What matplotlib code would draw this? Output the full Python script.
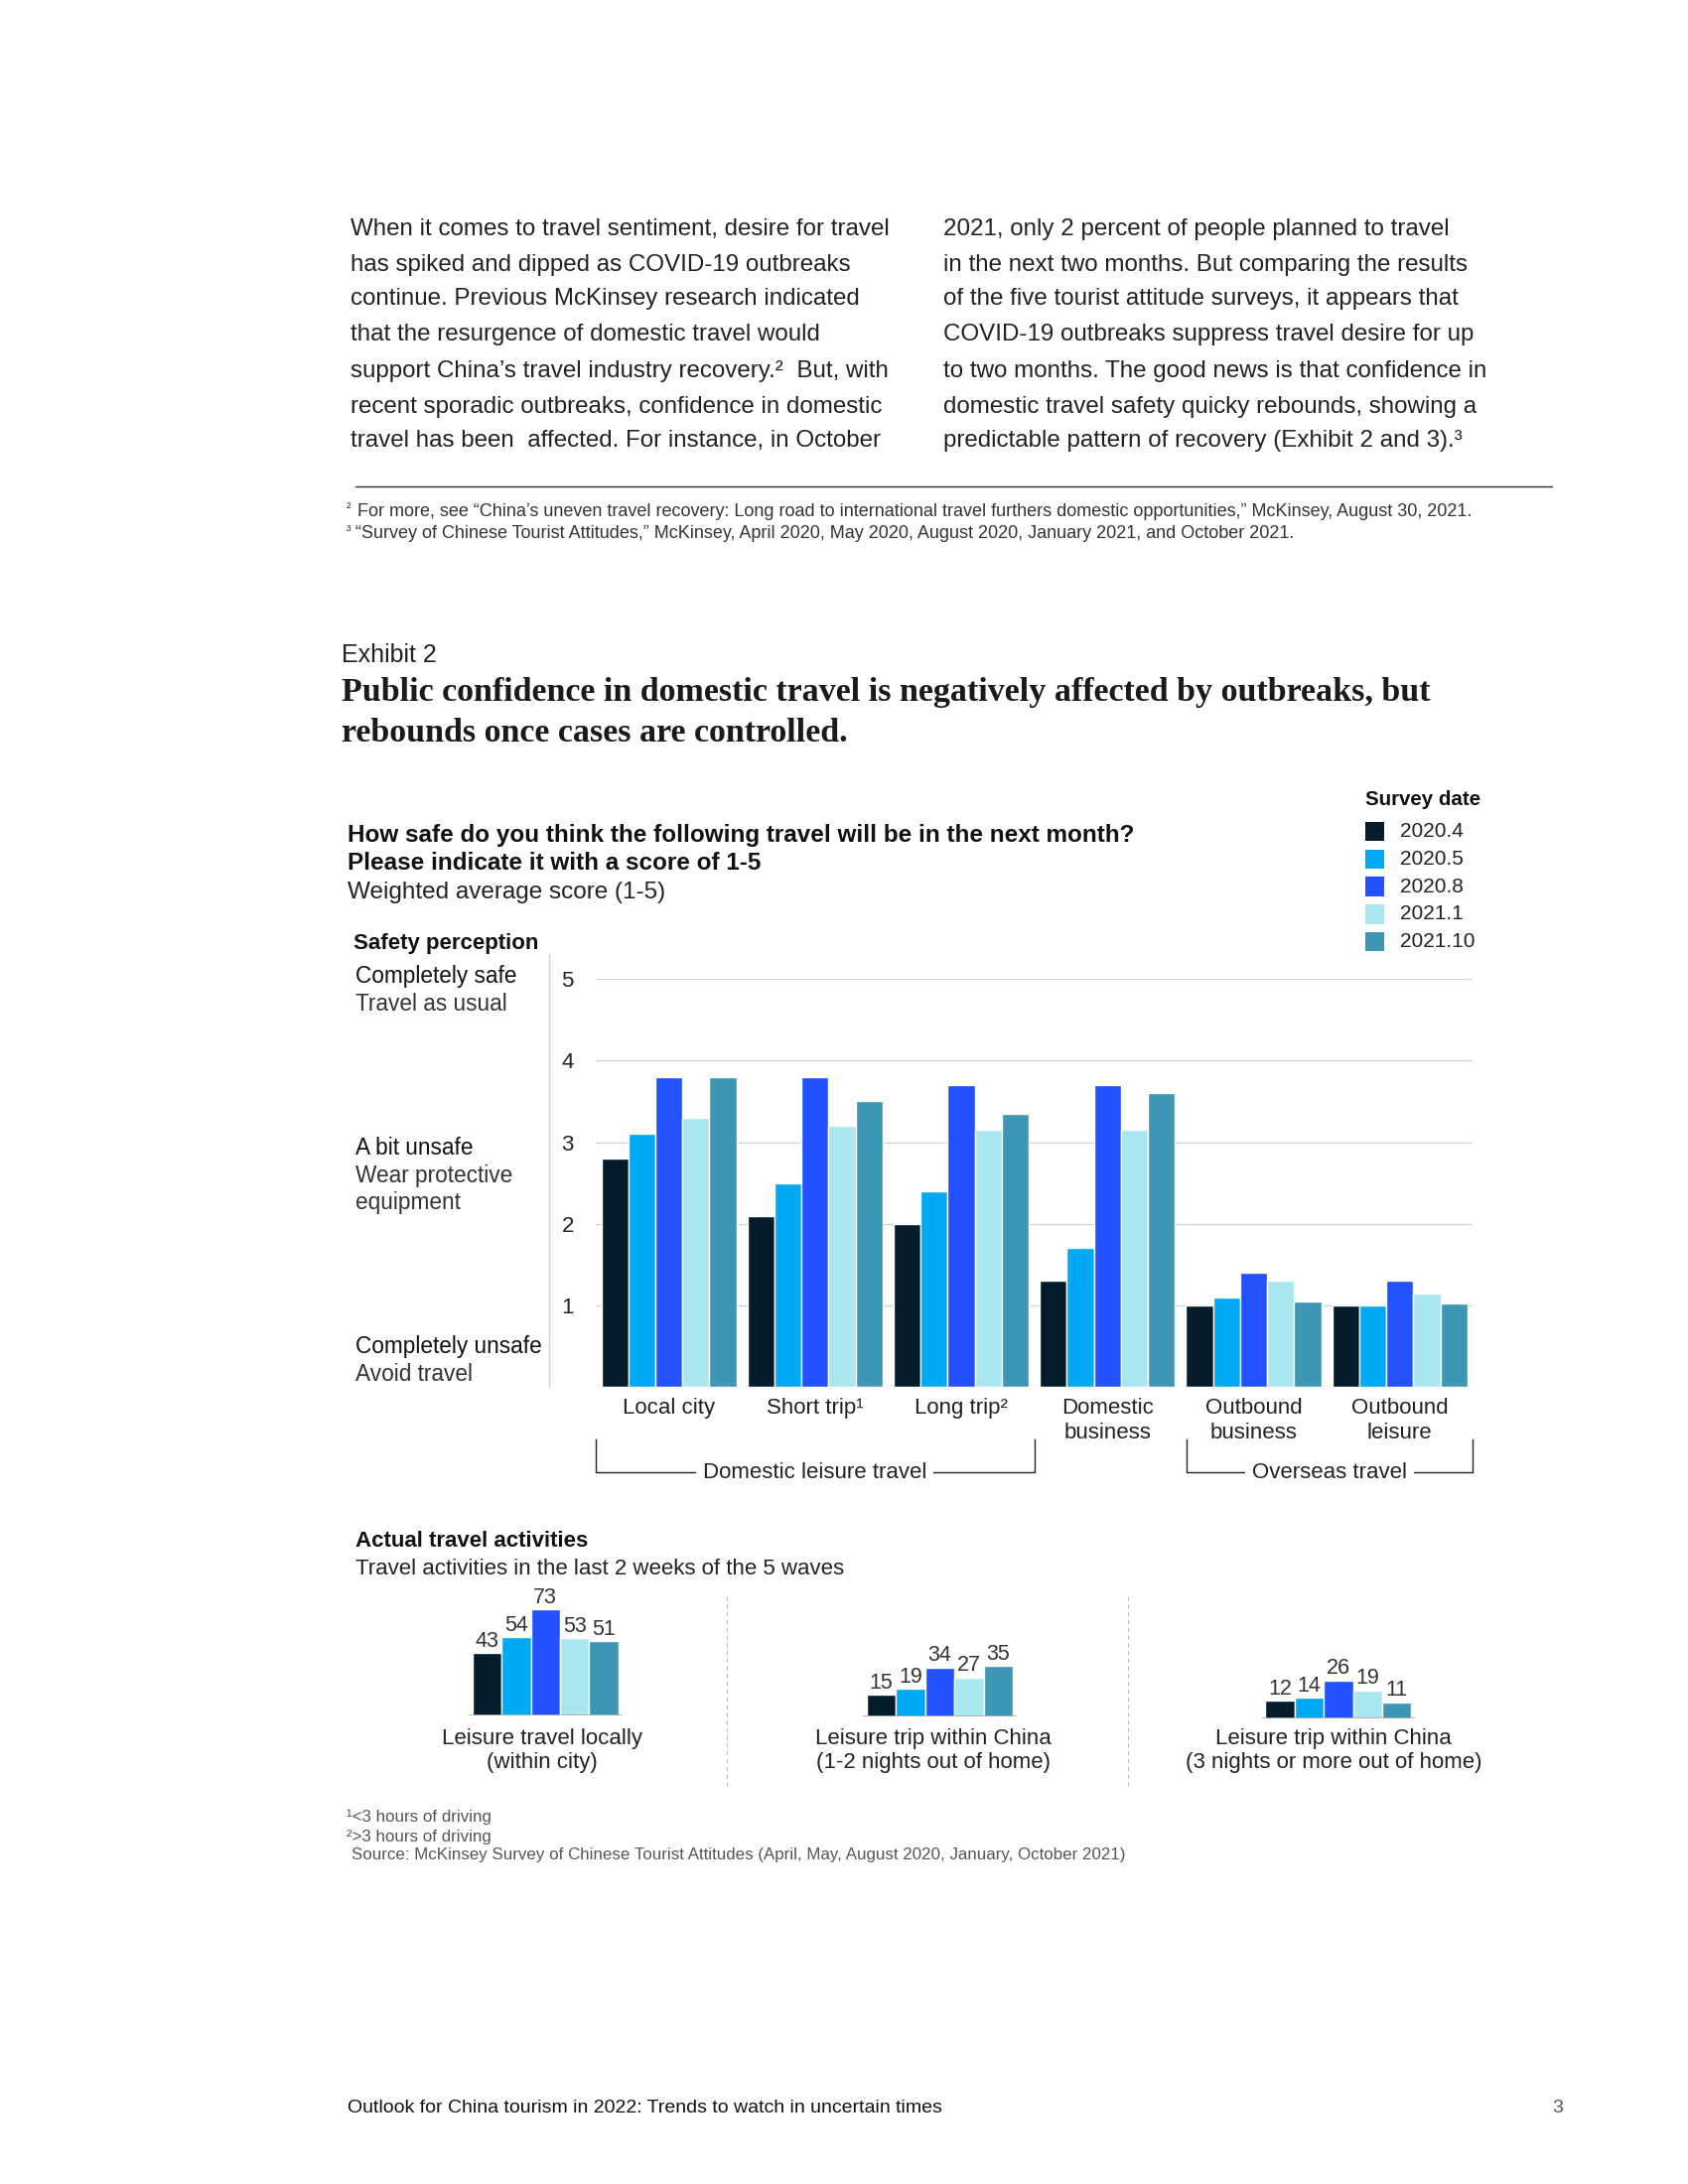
import numpy as np
import matplotlib
matplotlib.use("Agg")
import matplotlib.pyplot as plt
from matplotlib.lines import Line2D
from matplotlib.transforms import blended_transform_factory

plt.rcParams['font.family'] = ['Liberation Sans', 'DejaVu Sans']

# ---------------- data ----------------
categories = ["Local city", "Short trip¹", "Long trip²", "Domestic\nbusiness",
              "Outbound\nbusiness", "Outbound\nleisure"]
waves = ["2020.4", "2020.5", "2020.8", "2021.1", "2021.10"]
colors = ["#051C2C", "#00A9F4", "#2251FF", "#AAE6F0", "#3C96B4"]

score_2020_4 = [2.8, 2.1, 2.0, 1.3, 1.0, 1.0]
score_2020_5 = [3.1, 2.5, 2.4, 1.7, 1.1, 1.0]
score_2020_8 = [3.8, 3.8, 3.7, 3.7, 1.4, 1.3]
score_2021_1 = [3.3, 3.2, 3.15, 3.15, 1.3, 1.15]
score_2021_10 = [3.8, 3.5, 3.35, 3.6, 1.05, 1.02]
scores = [score_2020_4, score_2020_5, score_2020_8, score_2021_1, score_2021_10]

yticks = [1, 2, 3, 4, 5]

activity_labels = ["Leisure travel locally\n(within city)",
                   "Leisure trip within China\n(1-2 nights out of home)",
                   "Leisure trip within China\n(3 nights or more out of home)"]
local_city = [43, 54, 73, 53, 51]
trip_1_2_nights = [15, 19, 34, 27, 35]
trip_3_nights = [12, 14, 26, 19, 11]
activities = [local_city, trip_1_2_nights, trip_3_nights]

left_col = [
    "When it comes to travel sentiment, desire for travel",
    "has spiked and dipped as COVID-19 outbreaks",
    "continue. Previous McKinsey research indicated",
    "that the resurgence of domestic travel would",
    "support China’s travel industry recovery.²  But, with",
    "recent sporadic outbreaks, confidence in domestic",
    "travel has been  affected. For instance, in October",
]
right_col = [
    "2021, only 2 percent of people planned to travel",
    "in the next two months. But comparing the results",
    "of the five tourist attitude surveys, it appears that",
    "COVID-19 outbreaks suppress travel desire for up",
    "to two months. The good news is that confidence in",
    "domestic travel safety quicky rebounds, showing a",
    "predictable pattern of recovery (Exhibit 2 and 3).³",
]

W, H = 1224.0, 1584.0  # page layout units


def fx(x):
    return x / W


def fy(y):
    return 1 - y / H


fig = plt.figure(figsize=(17, 22), dpi=100)
fig.patch.set_facecolor("white")


def txt(x, y, s, size=14, weight="normal", color="#1a1a1a", ha="left", va="center", **kw):
    return fig.text(fx(x), fy(y), s, fontsize=size, fontweight=weight, color=color,
                    ha=ha, va=va, **kw)


def hline(x0, x1, y, color="#222222", lw=1.0, **kw):
    fig.add_artist(Line2D([fx(x0), fx(x1)], [fy(y), fy(y)], transform=fig.transFigure,
                          color=color, lw=lw, **kw))


def vline(x, y0, y1, color="#222222", lw=1.0, **kw):
    fig.add_artist(Line2D([fx(x), fx(x)], [fy(y0), fy(y1)], transform=fig.transFigure,
                          color=color, lw=lw, **kw))


# ---------------- body text ----------------
line_y = [166, 192, 217, 243, 269, 295, 320]
for y, s in zip(line_y, left_col):
    txt(254, y, s, size=17.4, color="#222222")
for y, s in zip(line_y, right_col):
    txt(684, y, s, size=17.4, color="#222222")

hline(258, 1125, 353, color="#333333", lw=1.0)
txt(251, 369, "²", size=10, color="#333333")
txt(259, 371, "For more, see “China’s uneven travel recovery: Long road to international travel furthers "
    "domestic opportunities,” McKinsey, August 30, 2021.", size=13, color="#333333")
txt(251, 385, "³", size=10, color="#333333")
txt(258, 387, "“Survey of Chinese Tourist Attitudes,” McKinsey, April 2020, May 2020, August 2020, "
    "January 2021, and October 2021.", size=13, color="#333333")

# ---------------- exhibit header ----------------
txt(248, 475, "Exhibit 2", size=18, color="#222222")
txt(248, 502, "Public confidence in domestic travel is negatively affected by outbreaks, but",
    size=24.5, weight="bold", color="#1a1a1a", family="Liberation Serif")
txt(248, 532, "rebounds once cases are controlled.",
    size=24.5, weight="bold", color="#1a1a1a", family="Liberation Serif")

txt(252, 606, "How safe do you think the following travel will be in the next month?",
    size=17.5, weight="bold", color="#111111")
txt(252, 626, "Please indicate it with a score of 1-5", size=17.5, weight="bold", color="#111111")
txt(252, 647, "Weighted average score (1-5)", size=17.5, color="#222222")

# legend
txt(990, 580, "Survey date", size=14.8, weight="bold", color="#111111")
for k, (lab, c) in enumerate(zip(waves, colors)):
    yy = 603 + 20 * k
    fig.patches.append(plt.Rectangle((fx(990), fy(yy + 7)), 14 / W, 14 / H,
                                     transform=fig.transFigure, facecolor=c,
                                     edgecolor="none"))
    txt(1015, yy, lab, size=15, color="#222222")

# safety perception labels
txt(256, 684, "Safety perception", size=16, weight="bold", color="#111111")
txt(258, 708, "Completely safe", size=16.3, color="#111111")
txt(258, 728, "Travel as usual", size=16.3, color="#333333")
txt(258, 833, "A bit unsafe", size=16.3, color="#111111")
txt(258, 853, "Wear protective", size=16.3, color="#333333")
txt(258, 872, "equipment", size=16.3, color="#333333")
txt(258, 977, "Completely unsafe", size=16.3, color="#111111")
txt(258, 997, "Avoid travel", size=16.3, color="#333333")
vline(398, 692, 1006, color="#d0d0d0", lw=1.0)

# ---------------- main bar chart ----------------
ax = fig.add_axes([fx(432), fy(1006), (1068 - 432) / W, (1006 - 710) / H])
x = np.arange(len(categories))
bw = 0.185
for i, (vals, c) in enumerate(zip(scores, colors)):
    ax.bar(x + (i - 2) * bw, vals, width=bw, color=c, edgecolor="white",
           linewidth=1.0, zorder=3, label=waves[i])
ax.set_xlim(-0.5, len(categories) - 0.5)
ax.set_ylim(0, 5)
for t in [0] + yticks:
    ax.axhline(t, color="#d4d4d4", lw=1.0, zorder=1)
for s in ax.spines.values():
    s.set_visible(False)
ax.set_yticks(yticks)
ax.set_yticklabels([str(t) for t in yticks])
ax.tick_params(axis="y", length=0, pad=16, labelsize=16, labelcolor="#222222")
ax.set_xticks(x)
ax.set_xticklabels(categories, fontsize=16, color="#222222", linespacing=1.2, va="top")
ax.tick_params(axis="x", length=0, pad=8)

# group brackets
tr = blended_transform_factory(ax.transData, fig.transFigure)


def bracket(x0, x1, label, xc):
    ax.add_line(Line2D([x0, x0, x1, x1], [fy(1044), fy(1068), fy(1068), fy(1044)],
                       transform=tr, color="#222222", lw=1.0, clip_on=False))
    ax.text(xc, fy(1068), label, transform=tr, ha="center", va="center", fontsize=16,
            color="#222222", bbox=dict(facecolor="white", edgecolor="none", pad=5))


bracket(-0.5, 2.5, "Domestic leisure travel", 1.0)
bracket(3.54, 5.5, "Overseas travel", 4.52)

# ---------------- actual travel activities ----------------
txt(258, 1118, "Actual travel activities", size=16, weight="bold", color="#111111")
txt(258, 1138, "Travel activities in the last 2 weeks of the 5 waves", size=16, color="#222222")

lefts = [340, 626, 915]
bases = [1244, 1245, 1246]
centers = [393, 677, 967]
for vals, left, base, cx, lab in zip(activities, lefts, bases, centers, activity_labels):
    a = fig.add_axes([fx(left), fy(base), 111 / W, 100 / H])
    a.bar(np.arange(5), vals, width=1.0, color=colors, edgecolor="white", linewidth=1.0,
          zorder=3)
    for j, v in enumerate(vals):
        a.text(j, v + 1.0, str(v), ha="center", va="bottom", fontsize=15.5, color="#333333")
    a.axhline(0, color="#aaaaaa", lw=1.2, zorder=4)
    a.set_xlim(-0.62, 4.62)
    a.set_ylim(0, 100 / 1.05)
    a.axis("off")
    txt(cx, 1270, lab, size=16, color="#222222", ha="center", linespacing=1.2)

for xs in [527, 818]:
    vline(xs, 1158, 1295, color="#bdbdbd", lw=0.8, linestyle=(0, (4, 3)))

# ---------------- footnotes ----------------
txt(251, 1318, "¹<3 hours of driving", size=12.2, color="#555555")
txt(251, 1332, "²>3 hours of driving", size=12.2, color="#555555")
txt(255, 1345, "Source: McKinsey Survey of Chinese Tourist Attitudes (April, May, August 2020, "
    "January, October 2021)", size=12.2, color="#555555")

txt(252, 1529, "Outlook for China tourism in 2022: Trends to watch in uncertain times",
    size=14, color="#111111")
txt(1133, 1529, "3", size=14, color="#555555", ha="right")

fig.savefig("out.png", dpi=100, facecolor="white")
